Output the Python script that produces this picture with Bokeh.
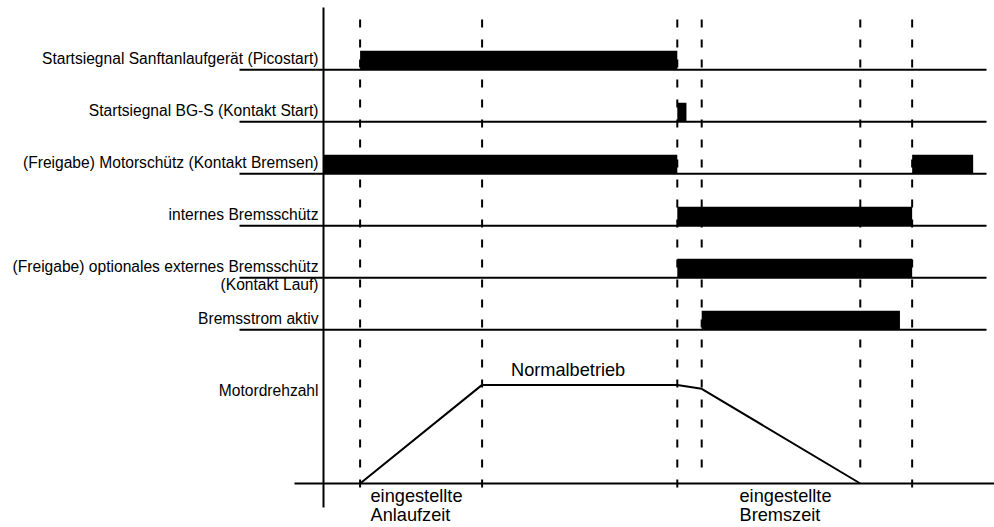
from bokeh.plotting import figure
from bokeh.models import Range1d
from bokeh.embed import file_html
from bokeh.resources import INLINE
from bokeh.core.properties import value

# ---------------- data ----------------
signal_labels = [
    "Startsiegnal Sanftanlaufgerät (Picostart)",
    "Startsiegnal BG-S (Kontakt Start)",
    "(Freigabe) Motorschütz (Kontakt Bremsen)",
    "internes Bremsschütz",
    "(Freigabe) optionales externes Bremsschütz",
    "Bremsstrom aktiv",
]
signal_sublabels = ["", "", "", "", "(Kontakt Lauf)", ""]
speed_label = "Motordrehzahl"

# time (s) at which each signal is ON
on_row = [0, 1, 2, 2, 3, 4, 5]
on_start = [0.6, 5.8, 0.0, 9.65, 5.8, 5.8, 6.2]
on_end = [5.8, 5.95, 5.8, 10.65, 9.65, 9.65, 9.45]

# event markers (dashed lines)
event_long_t = [0.6, 2.6, 5.8, 9.65]
event_short_t = [6.2, 8.8]

# motor speed profile (normalised)
speed_t = [0.6, 2.6, 5.8, 6.2, 8.8]
speed_v = [0.0, 1.0, 1.0, 0.96, 0.0]

note_plateau = "Normalbetrieb"
note_ramp_up = ["eingestellte", "Anlaufzeit"]
note_ramp_down = ["eingestellte", "Bremszeit"]

# ---------------- layout ----------------
W, H = 994, 527
PAGE = 0
AXIS_PX, PX_PER_S = 323.0, 61.0
ROW0_PX, PITCH = 69.3, 52.0
ZERO_PX, AMP_PX = 483.0, 98.6
BAR_H = 19.0
TDY = -7.0  # correction for text baseline placement

def tx(px):
    return (px - AXIS_PX) / PX_PER_S

def ly(px):
    return (px - ROW0_PX) / PITCH

def sv(px):
    return (ZERO_PX - px) / AMP_PX

p = figure(width=W, height=H, output_backend="svg", toolbar_location=None,
           x_range=Range1d(tx(PAGE), tx(PAGE + W)),
           y_range=Range1d(ly(PAGE + H), ly(PAGE)),
           x_axis_type=None, y_axis_type=None,
           min_border=0, min_border_left=0, min_border_right=0,
           min_border_top=0, min_border_bottom=0)
p.extra_y_ranges = {"speed": Range1d(sv(PAGE + H), sv(PAGE))}
p.xgrid.visible = False
p.ygrid.visible = False
p.outline_line_color = None
p.background_fill_color = "white"
p.border_fill_color = "white"

FONT = value("Liberation Sans")
ink = "black"

# vertical axis line
p.segment(x0=[0], y0=[ly(7)], x1=[0], y1=[ly(507)], line_color=ink, line_width=2)

# dashed event lines
p.segment(x0=event_long_t, x1=event_long_t,
          y0=[ly(19)] * len(event_long_t), y1=[ly(490)] * len(event_long_t),
          line_color=ink, line_width=2, line_dash="8 12")
p.segment(x0=event_short_t, x1=event_short_t,
          y0=[ly(19)] * len(event_short_t), y1=[ly(472)] * len(event_short_t),
          line_color=ink, line_width=2, line_dash="8 12")

# signal baselines
rows = list(range(len(signal_labels)))
p.segment(x0=[tx(239)] * len(rows), x1=[tx(986)] * len(rows), y0=rows, y1=rows,
          line_color=ink, line_width=2)

# ON bars
p.quad(left=on_start, right=on_end, bottom=on_row,
       top=[r - BAR_H / PITCH for r in on_row],
       fill_color=ink, line_color=None)

# labels
lab_x = [tx(318)] * len(rows)
p.text(x=lab_x, y=[r + (TDY - 4.0) / PITCH for r in rows], text=signal_labels,
       text_font=FONT, text_font_size="15.6px", text_align="right",
       text_baseline="alphabetic", text_color=ink)
p.text(x=lab_x, y=[r + (TDY + 13.5) / PITCH for r in rows], text=signal_sublabels,
       text_font=FONT, text_font_size="15.6px", text_align="right",
       text_baseline="alphabetic", text_color=ink)

# speed section
p.segment(x0=[tx(294)], x1=[tx(PAGE + W)], y0=[0], y1=[0], y_range_name="speed",
          line_color=ink, line_width=2)
p.line(x=speed_t, y=speed_v, y_range_name="speed", line_color=ink, line_width=2)
p.text(x=[tx(318)], y=[sv(396.5 + TDY)], text=[speed_label], y_range_name="speed",
       text_font=FONT, text_font_size="15.6px", text_align="right",
       text_baseline="alphabetic", text_color=ink)
p.text(x=[tx(510.5)], y=[sv(376 + TDY)], text=[note_plateau], y_range_name="speed",
       text_font=FONT, text_font_size="18.2px", text_align="left",
       text_baseline="alphabetic", text_color=ink)
p.text(x=[tx(370)] * 2, y=[sv(502 + TDY), sv(521 + TDY)], text=note_ramp_up,
       y_range_name="speed",
       text_font=FONT, text_font_size="18.2px", text_align="left",
       text_baseline="alphabetic", text_color=ink)
p.text(x=[tx(739)] * 2, y=[sv(502 + TDY), sv(521 + TDY)], text=note_ramp_down,
       y_range_name="speed",
       text_font=FONT, text_font_size="18.2px", text_align="left",
       text_baseline="alphabetic", text_color=ink)

open("out.html", "w").write(file_html(p, INLINE))
